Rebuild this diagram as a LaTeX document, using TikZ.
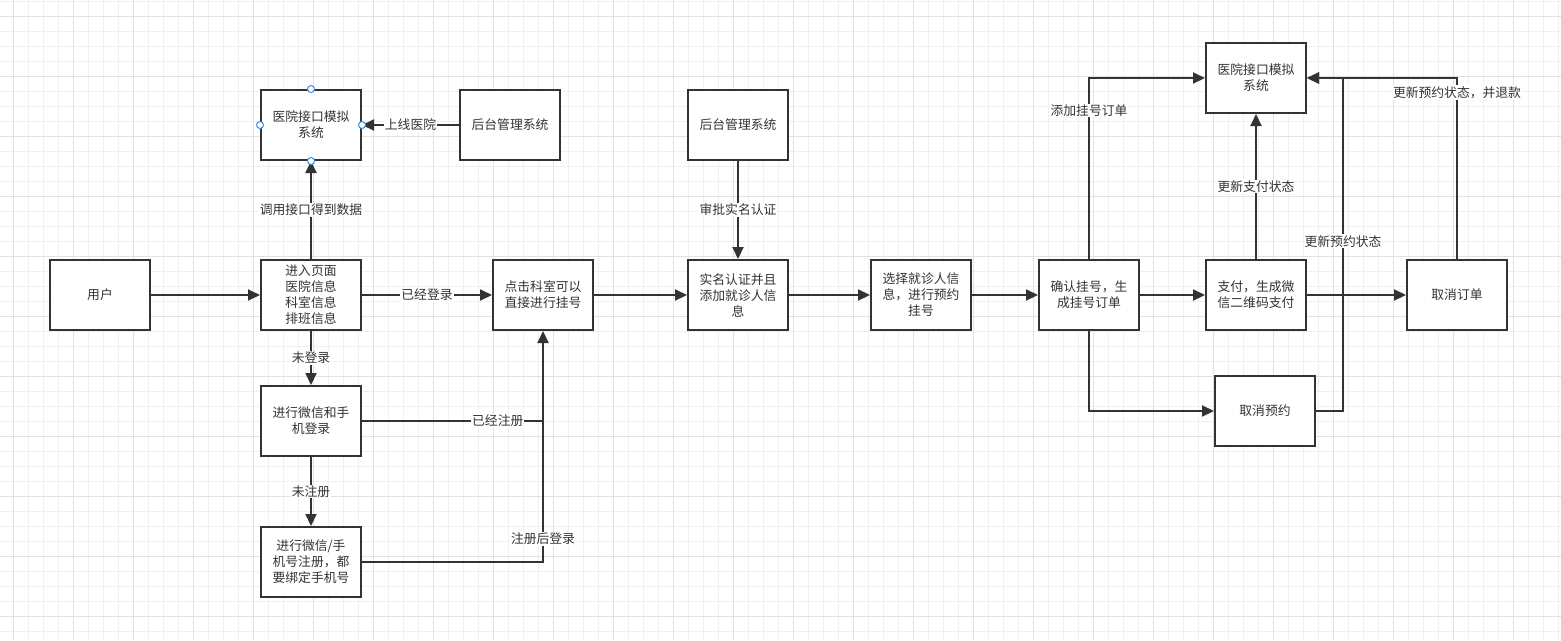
\documentclass[tikz,border=0pt]{standalone}
\usepackage{fontspec}
\newfontfamily\cjk{Noto Sans CJK SC}
\usetikzlibrary{arrows.meta}
\definecolor{ink}{HTML}{333333}
\definecolor{gridminor}{HTML}{F0F0F0}
\definecolor{gridmajor}{HTML}{E2E2E2}
\definecolor{handle}{HTML}{3D8EF0}
\begin{document}
\begin{tikzpicture}[x=1pt,y=-1pt,
  box/.style={draw=ink,line width=2pt,fill=white,minimum width=100pt,minimum height=70pt,
    inner sep=0pt,align=center,text=ink,font=\cjk\fontsize{12.8}{16}\selectfont},
  lab/.style={fill=white,inner sep=1pt,text=ink,font=\cjk\fontsize{12.8}{16}\selectfont},
  conn/.style={draw=ink,line width=2pt},
  arr/.style={conn,-{Triangle[length=12pt,width=11pt]}},
  hnd/.style={circle,draw=handle,fill=white,line width=1pt,minimum size=7pt,inner sep=0pt}]
\useasboundingbox (0,0) rectangle (1561,640);
\fill[white] (0,0) rectangle (1561,640);
% grid
\foreach \gx in {-1.7,13.3,...,1570} \draw[gridminor,line width=1pt] (\gx,0) -- (\gx,640);
\foreach \gy in {1.7,16.7,...,650} \draw[gridminor,line width=1pt] (0,\gy) -- (1561,\gy);
\foreach \gx in {13.3,73.3,...,1570} \draw[gridmajor,line width=1pt] (\gx,0) -- (\gx,640);
\foreach \gy in {16.7,76.7,...,650} \draw[gridmajor,line width=1pt] (0,\gy) -- (1561,\gy);
% nodes
\node[box] (user) at (100,295) {用户};
\node[box] (enter) at (311,295) {进入页面\\医院信息\\科室信息\\排班信息};
\node[box] (hospA) at (311,125) {医院接口模拟\\系统};
\node[box] (backA) at (510,125) {后台管理系统};
\node[box] (click) at (543,295) {点击科室可以\\直接进行挂号};
\node[box] (login) at (311,421) {进行微信和手\\机登录};
\node[box] (reg) at (311,562) {进行微信/手\\机号注册，都\\要绑定手机号};
\node[box] (backB) at (738,125) {后台管理系统};
\node[box] (real) at (738,295) {实名认证并且\\添加就诊人信\\息};
\node[box] (select) at (921,295) {选择就诊人信\\息，进行预约\\挂号};
\node[box] (confirm) at (1089,295) {确认挂号，生\\成挂号订单};
\node[box] (hospB) at (1256,78) {医院接口模拟\\系统};
\node[box] (pay) at (1256,295) {支付，生成微\\信二维码支付};
\node[box] (corder) at (1457,295) {取消订单};
\node[box] (cres) at (1265,411) {取消预约};
\coordinate (jn) at (1343,78);
% connectors
\draw[arr] (user) -- (enter);
\draw[arr] (enter) -- node[lab]{已经登录} (click);
\draw[arr] (enter) -- node[lab]{调用接口得到数据} (hospA);
\draw[arr] (backA) -- node[lab]{上线医院} (hospA);
\draw[arr] (enter) -- node[lab]{未登录} (login);
\draw[arr] (login) -- node[lab]{未注册} (reg);
\draw[conn] (login.east) -- node[lab,pos=0.75]{已经注册} (login.east -| click.south);
\draw[arr] (reg.east) -| node[lab,pos=0.55]{注册后登录} (click.south);
\draw[arr] (backB) -- node[lab]{审批实名认证} (real);
\draw[arr] (click) -- (real);
\draw[arr] (real) -- (select);
\draw[arr] (select) -- (confirm);
\draw[arr] (confirm) -- (pay);
\draw[arr] (pay) -- (corder);
\draw[arr] (confirm.north) |- node[lab,pos=0.41]{添加挂号订单} (hospB.west);
\draw[arr] (pay) -- node[lab]{更新支付状态} (hospB);
\draw[arr] (confirm.south) |- (cres.west);
\draw[arr] (cres.east) -| node[lab,pos=0.755]{更新预约状态} (jn) -- (hospB.east);
\draw[arr] (corder.north) |- node[lab,pos=0.46]{更新预约状态，并退款} (hospB.east);
% selection handles
\node[hnd] (h1) at (hospA.north) {};
\node[hnd] (h2) at (hospA.south) {};
\node[hnd] (h3) at (hospA.west) {};
\node[hnd] (h4) at (hospA.east) {};
\end{tikzpicture}
\end{document}
